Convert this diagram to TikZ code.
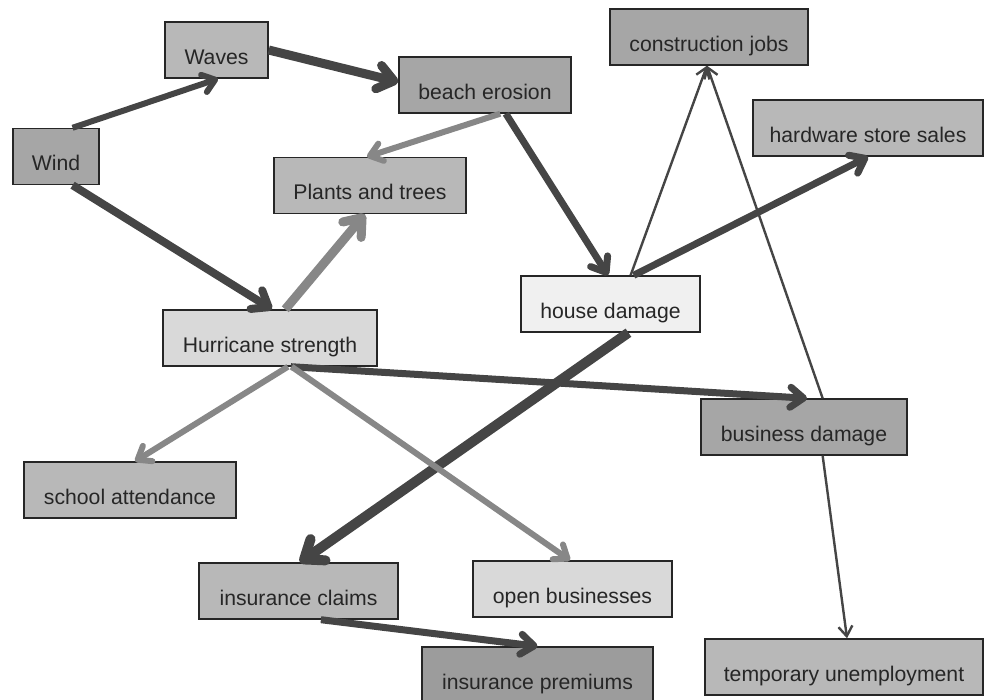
\documentclass[tikz,border=0pt]{standalone}
\usepackage{fontspec}
\setmainfont{Liberation Sans}
\usetikzlibrary{arrows.meta}

\begin{document}
\begin{tikzpicture}[
            x=0.5pt, y=-0.5pt,
            box/.style={rectangle, draw=black!85, line width=0.7pt, minimum height=28pt, inner sep=2pt,
                        text height=16pt, text depth=1.5pt, font=\fontsize{10.6}{12}\selectfont, text=black!85},
            darkbox/.style={box, fill=black!35},
            midbox/.style={box, fill=black!28},
            lightbox/.style={box, fill=black!15},
            palebox/.style={box, fill=black!6},
            strong/.style={-{Straight Barb[round, length=2pt 1.3, width=3pt 2]}, draw=black!73},
            weak/.style={-{Straight Barb[round, length=2pt 1.3, width=3pt 2]}, draw=black!47},
            slim/.style={-{Straight Barb[length=5pt, width=7pt]}, draw=black!73, line width=1.2pt}
        ]
            \useasboundingbox (0,0) rectangle (985,700);

            % Causes
            \node[darkbox, minimum width=43pt] (wind) at (56,156.5) {Wind};
            \node[midbox, minimum width=51.5pt] (waves) at (216.5,50) {Waves};
            \node[darkbox, minimum width=86pt] (erosion) at (485,85) {beach erosion};
            \node[lightbox, minimum width=107pt] (hurricane) at (270,338) {Hurricane strength};

            % Direct effects
            \node[midbox, minimum width=96pt] (plants) at (370,185.5) {Plants and trees};
            \node[palebox, minimum width=89.5pt] (house) at (610.5,304) {house damage};
            \node[darkbox, minimum width=103pt] (business) at (804,427) {business damage};
            \node[midbox, minimum width=106pt] (school) at (130,490) {school attendance};
            \node[lightbox, minimum width=99.5pt] (openbiz) at (572.5,589) {open businesses};

            % Follow-on effects
            \node[darkbox, minimum width=99pt] (jobs) at (709,37) {construction jobs};
            \node[midbox, minimum width=115pt] (hardware) at (868,128) {hardware store sales};
            \node[midbox, minimum width=99.5pt] (claims) at (298.5,591) {insurance claims};
            \node[darkbox, fill=black!39, minimum width=115.5pt] (premiums) at (537.5,675) {insurance premiums};
            \node[midbox, minimum width=139pt] (unemployment) at (844,667) {temporary unemployment};

            % Wind and waves
            \draw[strong, line width=3pt] (wind.60) -- (waves.-87);
            \draw[strong, line width=4.5pt] (waves.east) -- (erosion.178);
            \draw[strong, line width=4pt] (wind.-60) -- (hurricane.86);

            % Coast
            \draw[weak, line width=3pt] (erosion.-62) -- (plants.96);
            \draw[weak, line width=4.5pt] (hurricane.62) -- (plants.-100);
            \draw[strong, line width=3.5pt] (erosion.-54) -- (house.95);

            % Rebuilding
            \draw[slim] (house.55) -- (jobs.-94);
            \draw[strong, line width=3.5pt] (house.51) -- (hardware.south);
            \draw[slim] (business.57) -- (jobs.-94);
            \draw[slim] (business.-57) -- (unemployment.84);

            % Losses
            \draw[strong, line width=5pt] (house.-58) -- (claims.87);
            \draw[strong, line width=3.5pt] (hurricane.-54) -- (business.84);
            \draw[weak, line width=3pt] (hurricane.-58) -- (school.80);
            \draw[weak, line width=3pt] (hurricane.-53) -- (openbiz.95);
            \draw[strong, line width=3.5pt] (claims.-52) -- (premiums.north);
        \end{tikzpicture}
\end{document}
